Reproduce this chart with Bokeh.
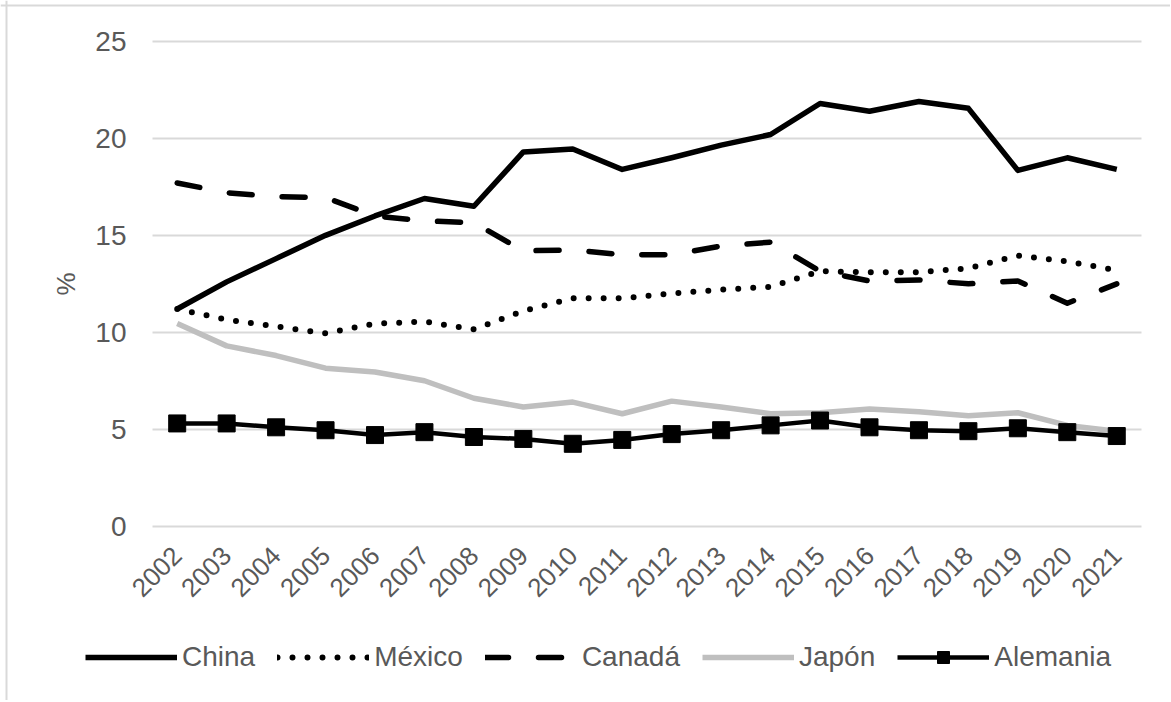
from bokeh.plotting import figure
from bokeh.models import Range1d, FixedTicker, Legend, LegendItem, Span
from bokeh.embed import file_html
from bokeh.resources import INLINE
import math

years = list(range(2002, 2022))
china = [11.2, 12.6, 13.8, 15.0, 16.0, 16.9, 16.5, 19.3, 19.45, 18.4,
         19.0, 19.65, 20.2, 21.8, 21.4, 21.9, 21.55, 18.35, 19.0, 18.4]
mexico = [11.2, 10.65, 10.3, 9.95, 10.45, 10.55, 10.15, 11.1, 11.75, 11.75,
          12.0, 12.2, 12.35, 13.15, 13.1, 13.1, 13.3, 13.95, 13.65, 13.2]
canada = [17.7, 17.2, 17.0, 16.95, 16.0, 15.75, 15.65, 14.2, 14.25, 14.0,
          14.0, 14.45, 14.65, 13.15, 12.65, 12.7, 12.5, 12.65, 11.5, 12.5]
japon = [10.45, 9.3, 8.8, 8.15, 7.95, 7.5, 6.6, 6.15, 6.4, 5.8,
         6.45, 6.15, 5.8, 5.85, 6.05, 5.9, 5.7, 5.85, 5.2, 4.9]
alemania = [5.3, 5.3, 5.1, 4.95, 4.7, 4.85, 4.6, 4.5, 4.25, 4.45,
            4.75, 4.95, 5.2, 5.45, 5.1, 4.95, 4.9, 5.05, 4.85, 4.65]
y_ticks = [0, 5, 10, 15, 20, 25]

TEXT = "#595959"
FONT = "Liberation Sans"

W, H = 1170, 700
PPU_X = 49.45          # pixels per year
PPU_Y = 19.39          # pixels per percentage point
X0_PX = 176.7          # screen x of first year
Y0_PX = 525.7          # screen y of value 0

x_start = years[0] - X0_PX / PPU_X
x_end = x_start + W / PPU_X
y_end = Y0_PX / PPU_Y
y_start = -(H - Y0_PX) / PPU_Y

p = figure(width=W, height=H, x_range=Range1d(x_start, x_end),
           y_range=Range1d(y_start, y_end), output_backend="svg",
           toolbar_location=None, min_border=0)
p.outline_line_color = None
p.background_fill_color = "white"
p.border_fill_color = "white"

# light chart-area border (left and top edges)
p.add_layout(Span(location=x_start + 6 / PPU_X, dimension="height",
                  line_color="#D9D9D9", line_width=2))
p.add_layout(Span(location=y_end - 5 / PPU_Y, dimension="width",
                  line_color="#D9D9D9", line_width=2))

left_edge = years[0] - 0.5
right_edge = years[-1] + 0.5

p.xgrid.grid_line_color = None
p.ygrid.grid_line_color = "#D9D9D9"
p.ygrid.grid_line_width = 2
p.ygrid.ticker = FixedTicker(ticks=y_ticks)
p.ygrid.cross_bounds = (left_edge, right_edge)

p.yaxis.fixed_location = left_edge
p.yaxis.bounds = (y_ticks[0], y_ticks[-1])
p.yaxis.ticker = FixedTicker(ticks=y_ticks)
p.yaxis.axis_line_color = None
p.yaxis.major_tick_line_color = None
p.yaxis.minor_tick_line_color = None
p.yaxis.major_tick_out = 0
p.yaxis.major_tick_in = 0
p.yaxis.major_label_standoff = 26
p.yaxis.major_label_text_font = FONT
p.yaxis.major_label_text_font_size = "28px"
p.yaxis.major_label_text_color = TEXT
p.yaxis.axis_label = "%"
p.yaxis.axis_label_text_font = FONT
p.yaxis.axis_label_text_font_size = "26px"
p.yaxis.axis_label_text_font_style = "normal"
p.yaxis.axis_label_text_color = TEXT
p.yaxis.axis_label_standoff = 11

p.xaxis.fixed_location = 0
p.xaxis.bounds = (left_edge, right_edge)
p.xaxis.ticker = FixedTicker(ticks=years)
p.xaxis.axis_line_color = None
p.xaxis.major_tick_line_color = None
p.xaxis.minor_tick_line_color = None
p.xaxis.major_tick_out = 0
p.xaxis.major_tick_in = 0
p.xaxis.major_label_orientation = math.pi / 4
p.xaxis.major_label_standoff = 25
p.xaxis.major_label_text_font = FONT
p.xaxis.major_label_text_font_size = "26px"
p.xaxis.major_label_text_color = TEXT

r_china = p.line(years, china, line_color="black", line_width=5.5, line_join="round")
r_mex = p.line(years, mexico, line_color="black", line_width=6, line_dash="0 15",
               line_cap="round", line_join="round")
r_can = p.line(years, canada, line_color="black", line_width=5.5, line_dash="23 30",
               line_cap="round", line_join="round")
r_jap = p.line(years, japon, line_color="#BFBFBF", line_width=5.5, line_join="round")
r_ale = p.line(years, alemania, line_color="black", line_width=4.5, line_join="round")
r_ale_m = p.scatter(years, alemania, marker="square", size=17, fill_color="black",
                    line_color="black")

legend = Legend(items=[
    LegendItem(label="China", renderers=[r_china]),
    LegendItem(label="México", renderers=[r_mex]),
    LegendItem(label="Canadá", renderers=[r_can]),
    LegendItem(label="Japón", renderers=[r_jap]),
    LegendItem(label="Alemania", renderers=[r_ale, r_ale_m]),
], orientation="horizontal", location=(85, H - 673))
legend.glyph_width = 92
legend.glyph_height = 30
legend.label_height = 30
legend.label_standoff = 5
legend.spacing = 22
legend.padding = 0
legend.margin = 0
legend.border_line_color = None
legend.background_fill_alpha = 0
legend.label_text_font = FONT
legend.label_text_font_size = "28px"
legend.label_text_color = TEXT
p.add_layout(legend, "center")

open("out.html", "w").write(file_html(p, INLINE))
